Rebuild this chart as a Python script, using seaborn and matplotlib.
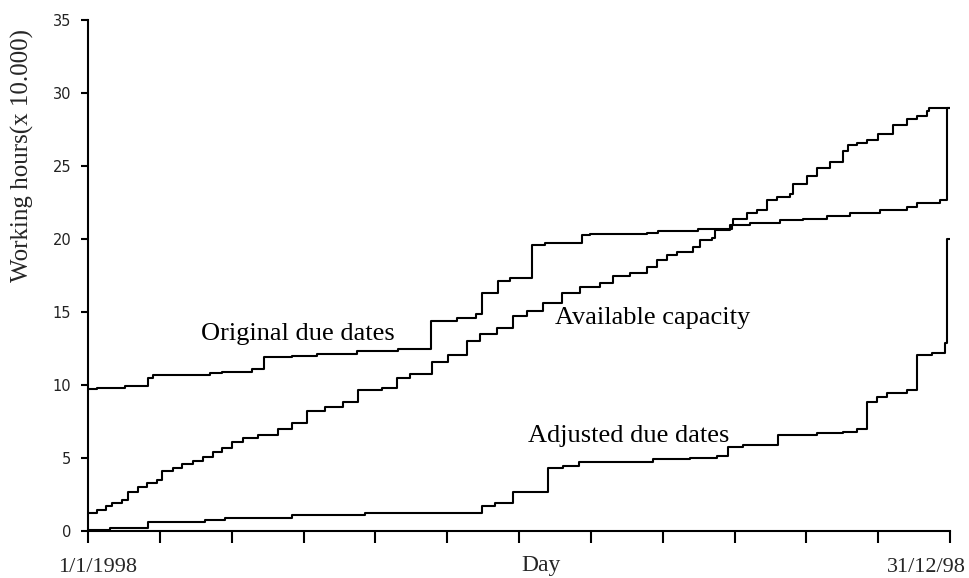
import numpy as np
import pandas as pd
import matplotlib
matplotlib.use("Agg")
import matplotlib.pyplot as plt
import seaborn as sns

# ---- data (days since 1/1/1998, working hours x 10.000) ----
orig_days = [0, 3.8, 15.7, 25.5, 27.5, 51.7, 56.6, 69.3, 74.5, 86.3, 96.8, 113.8,
             131.3, 145.2, 156.1, 164.5, 167.0, 173.7, 178.7, 188.1, 193.5, 209.3,
             212.6, 236.6, 241.5, 258.3, 272.6, 280.3, 293.0, 302.8, 312.9, 322.7,
             335.4, 346.8, 351.0, 360.8, 363.6, 365]
orig_vals = [9.7, 9.8, 9.93, 10.5, 10.7, 10.8, 10.9, 11.1, 11.9, 12.0, 12.1, 12.3,
             12.45, 14.4, 14.6, 14.85, 16.3, 17.1, 17.35, 19.6, 19.7, 20.3,
             20.35, 20.4, 20.55, 20.7, 20.96, 21.07, 21.3, 21.4, 21.6, 21.75,
             22.0, 22.2, 22.5, 22.67, 29.0, 29.0]

cap_days = [0, 3.7, 7.6, 10.0, 14.3, 17.1, 21.3, 24.9, 29.1, 31.2, 36.1, 39.7, 44.6,
            48.8, 53.1, 56.6, 60.8, 65.8, 72.1, 80.6, 86.3, 92.6, 100.4, 108.1, 114.5,
            124.4, 130.7, 136.3, 145.5, 152.6, 160.4, 166.0, 173.1, 180.1, 185.8,
            192.8, 200.6, 208.3, 216.8, 222.4, 229.5, 236.6, 240.8, 245.0, 249.3,
            256.3, 259.1, 264.1, 265.5, 271.8, 273.2, 278.9, 283.1, 287.4, 291.6,
            297.2, 298.6, 304.3, 308.5, 314.2, 319.8, 321.9, 325.5, 329.7, 334.6,
            341.0, 346.7, 350.9, 355.1, 356.2, 365]
cap_vals = [1.25, 1.44, 1.71, 1.9, 2.12, 2.7, 3.0, 3.27, 3.5, 4.08, 4.3, 4.6, 4.8,
            5.05, 5.4, 5.66, 6.1, 6.35, 6.6, 7.0, 7.4, 8.2, 8.5, 8.85, 9.65,
            9.8, 10.5, 10.75, 11.55, 12.05, 13.0, 13.47, 13.9, 14.7, 15.1,
            15.6, 16.3, 16.7, 16.96, 17.5, 17.65, 18.1, 18.56, 18.9, 19.1,
            19.47, 19.9, 20.1, 20.6, 20.96, 21.4, 21.76, 22.0, 22.67, 22.9,
            23.1, 23.8, 24.3, 24.85, 25.3, 26.0, 26.45, 26.55, 26.8, 27.2,
            27.8, 28.2, 28.4, 28.8, 29.0, 29.0]

adj_days = [0, 9.3, 25.5, 49.5, 58.0, 86.3, 117.3, 166.7, 172.3, 179.8, 194.9, 201.3,
            208.0, 239.4, 254.9, 266.2, 271.1, 277.5, 292.0, 308.5, 319.8, 325.5,
            329.7, 333.9, 338.2, 346.7, 350.9, 357.2, 362.9, 363.6, 365]
adj_vals = [0.07, 0.18, 0.64, 0.75, 0.91, 1.1, 1.2, 1.73, 1.9, 2.7, 4.3, 4.45,
            4.75, 4.9, 5.0, 5.16, 5.73, 5.9, 6.58, 6.7, 6.8, 6.99,
            8.86, 9.2, 9.43, 9.66, 12.05, 12.17, 12.86, 20.0, 20.0]

series_labels = ["Original due dates", "Available capacity", "Adjusted due dates"]
label_pos = [(88.7, 13.08), (239.0, 14.18), (229.0, 6.12)]
y_ticks = [0, 5, 10, 15, 20, 25, 30, 35]
x_start_label = "1/1/1998"
x_end_label = "31/12/98"
x_title = "Day"
y_title = "Working hours(x 10.000)"

sns.set_style("ticks")
plt.rcParams["font.family"] = ["Liberation Serif", "DejaVu Serif"]

fig = plt.figure(figsize=(9.7, 5.78), dpi=100)
ax = fig.add_axes([88 / 970, 1 - 531 / 578, (950 - 88) / 970, (531 - 20) / 578])

for d, v in [(orig_days, orig_vals), (cap_days, cap_vals), (adj_days, adj_vals)]:
    df = pd.DataFrame({"day": d, "val": v})
    sns.lineplot(data=df, x="day", y="val", ax=ax, drawstyle="steps-post",
                 estimator=None, sort=False, color="black", linewidth=1.5)

ax.set_xlim(0, 365)
ax.set_ylim(0, 35)
sns.despine(ax=ax)
for s in ["left", "bottom"]:
    ax.spines[s].set_linewidth(1.5)
    ax.spines[s].set_color("black")

ax.set_xticks(np.linspace(0, 365, 13))
ax.set_xticklabels([])
ax.set_yticks(y_ticks)
ax.set_yticklabels([str(t) for t in y_ticks])
for t in ax.get_yticklabels():
    t.set_fontfamily("DejaVu Sans")
    t.set_fontsize(10.5)
    t.set_color("#222222")
ax.tick_params(axis="x", length=8.5, width=1.5, direction="out", color="black")
ax.tick_params(axis="y", length=5, width=1.5, direction="out", color="black", pad=7)
ax.set_xlabel("")
ax.set_ylabel("")

for lab, (x, y) in zip(series_labels, label_pos):
    ax.text(x, y, lab, ha="center", va="baseline", fontsize=19, color="black")

fig.text(58 / 970, 1 - 572 / 578, x_start_label, ha="left", va="baseline", fontsize=16)
fig.text(966 / 970, 1 - 572 / 578, x_end_label, ha="right", va="baseline", fontsize=16)
fig.text(541 / 970, 1 - 571 / 578, x_title, ha="center", va="baseline", fontsize=17)
fig.text(22 / 970, 1 - 155 / 578, y_title, ha="center", va="center", rotation=90,
         fontsize=18)

fig.savefig("out.png", dpi=100)
